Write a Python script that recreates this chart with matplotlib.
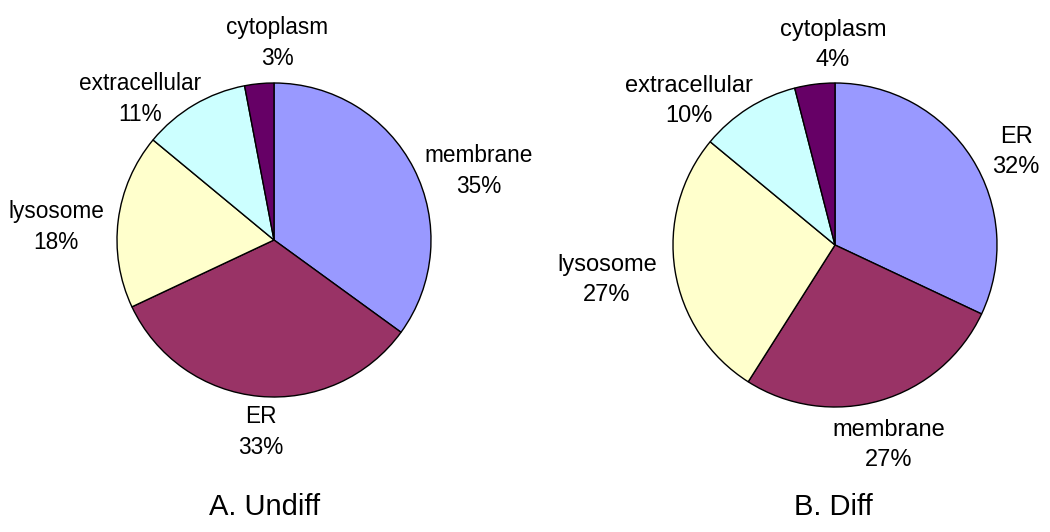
import matplotlib
matplotlib.use("Agg")
import matplotlib.pyplot as plt

plt.rcParams['font.family'] = ['Liberation Sans', 'DejaVu Sans']

# Data
undiff_labels = ["membrane", "ER", "lysosome", "extracellular", "cytoplasm"]
undiff_values = [35, 33, 18, 11, 3]
diff_labels = ["ER", "membrane", "lysosome", "extracellular", "cytoplasm"]
diff_values = [32, 27, 27, 10, 4]
titles = ["A. Undiff", "B. Diff"]

slice_colors = ["#9999FF", "#993366", "#FFFFCC", "#CCFFFF", "#660066"]

# Layout (pixel coordinates, y up)
W, H = 1050, 532
pie_centers = [(274, 292), (835, 287)]
pie_radii = [157, 162]
label_pos = [
    [(479, 361), (261, 100), (56, 305), (140, 433), (277, 489)],
    [(1016, 380), (889, 87), (607, 252), (689, 431), (833, 487)],
]
label_size = [16.3, 17.0]
title_baseline = [(265, 17), (833, 17)]

fig = plt.figure(figsize=(W / 100, H / 100), dpi=100)
ax = fig.add_axes([0, 0, 1, 1])

datasets = [(undiff_labels, undiff_values), (diff_labels, diff_values)]
for i, (labs, vals) in enumerate(datasets):
    ax.pie(vals, colors=slice_colors, startangle=90, counterclock=False,
           center=pie_centers[i], radius=pie_radii[i], frame=True,
           wedgeprops=dict(edgecolor='black', linewidth=1.0))
    total = sum(vals)
    for j, (lab, v) in enumerate(zip(labs, vals)):
        pct = round(100 * v / total)
        x, y = label_pos[i][j]
        ax.text(x, y, f"{lab}\n{pct}%", ha='center', va='center',
                fontsize=label_size[i], linespacing=1.42, color='black')
    ax.text(title_baseline[i][0], title_baseline[i][1], titles[i], ha='center',
            va='baseline', fontsize=21, color='black')

ax.set_xlim(0, W)
ax.set_ylim(0, H)
ax.set_aspect('equal')
ax.axis('off')

fig.savefig("out.png", dpi=100)
